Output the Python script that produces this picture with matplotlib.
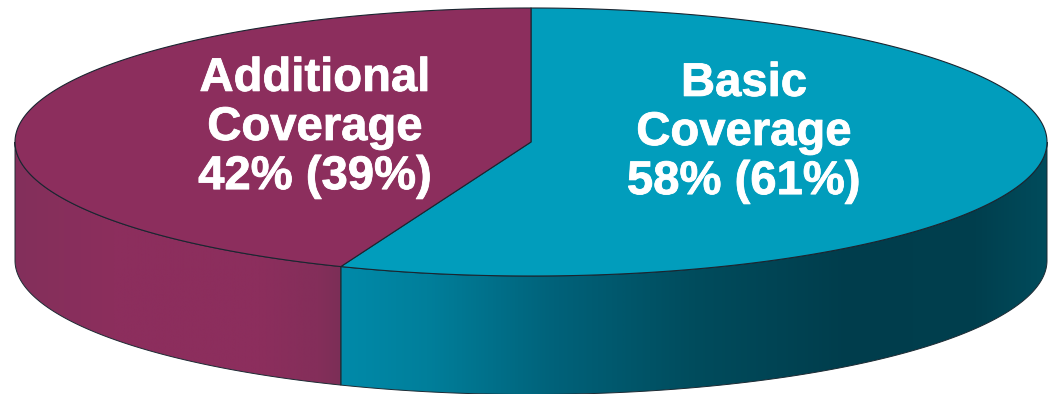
"""Two-slice 3D coverage pie, drawn by hand because matplotlib has no tilted pie."""
import matplotlib
matplotlib.use("Agg")
import matplotlib.patheffects as pe
import matplotlib.pyplot as plt
import numpy as np
from matplotlib.colors import LinearSegmentedColormap
from matplotlib.patches import Polygon

slice_names = ["Basic\nCoverage", "Additional\nCoverage"]
slice_shares = [58, 42]
prior_shares = [61, 39]

top_colors = ["#019dbc", "#8c2e5d"]
label_spots = [(744, 133), (315, 128)]

# disc geometry in pixels
CX, CY = 531, 142
RX, RY = 516, 134
DEPTH = 118.5
# foreshortening of the view: slices bend slightly towards the viewer
VIEW_SKEW = np.radians(-8.5)

basic_rim = LinearSegmentedColormap.from_list(
    "basic_rim",
    [(0.0, "#008aa9"), (0.12, "#007f9b"), (0.3, "#00627a"), (0.5, "#004c5d"),
     (0.72, "#003d4c"), (0.9, "#003f4e"), (1.0, "#004c5c")],
)
additional_rim = LinearSegmentedColormap.from_list(
    "additional_rim",
    [(0.0, "#83305b"), (0.3, "#8c2e5d"), (0.75, "#8c2e5d"), (0.93, "#842e5a"), (1.0, "#7c2f57")],
)


def rim_point(theta):
    """Screen position on the top rim, theta clockwise from 12 o'clock."""
    bent = theta + VIEW_SKEW * np.sin(2 * theta)
    return CX + RX * np.sin(bent), CY - RY * np.cos(bent)


def arc(start, end, n=300):
    return np.column_stack(rim_point(np.linspace(start, end, n)))


def draw_side(ax, start, end, cmap):
    upper = arc(start, end)
    lower = upper[::-1] + [0, DEPTH]
    patch = Polygon(np.vstack([upper, lower]), closed=True, facecolor="none",
                    edgecolor="#1c2a33", linewidth=0.7, zorder=3)
    ax.add_patch(patch)
    x0, x1 = upper[:, 0].min(), upper[:, 0].max()
    shade = np.linspace(0, 1, 512).reshape(1, -1)
    img = ax.imshow(shade, cmap=cmap, aspect="auto", zorder=2,
                    extent=[x0, x1, CY + RY + DEPTH + 2, CY - 2])
    img.set_clip_path(patch)


def main():
    fig = plt.figure(figsize=(10.51, 3.94), dpi=100)
    ax = fig.add_axes([0, 0, 1, 1])

    split = 2 * np.pi * slice_shares[0] / sum(slice_shares)

    # only the front half of the rim is visible
    draw_side(ax, np.pi / 2, split, basic_rim)
    draw_side(ax, split, 3 * np.pi / 2, additional_rim)

    # top faces, each one a wedge from the centre
    bounds = [(0, split), (split, 2 * np.pi)]
    for (start, end), color in zip(bounds, top_colors):
        pts = np.vstack([[CX, CY], arc(start, end)])
        ax.add_patch(Polygon(pts, closed=True, facecolor=color, edgecolor="#1a2530",
                             linewidth=0.8, joinstyle="round", zorder=4))

    for name, share, prior, (x, y) in zip(slice_names, slice_shares, prior_shares, label_spots):
        label = ax.text(x, y, f"{name}\n{share}% ({prior}%)", color="white", ha="center", va="center",
                        family="Liberation Sans", fontweight="bold", fontsize=34,
                        linespacing=1.15, zorder=5)
        label.set_path_effects([pe.withStroke(linewidth=0.6, foreground="white")])

    ax.set_xlim(0, 1051)
    ax.set_ylim(394, 0)
    ax.axis("off")
    fig.savefig("out.png", dpi=100, facecolor="white")


if __name__ == "__main__":
    main()
